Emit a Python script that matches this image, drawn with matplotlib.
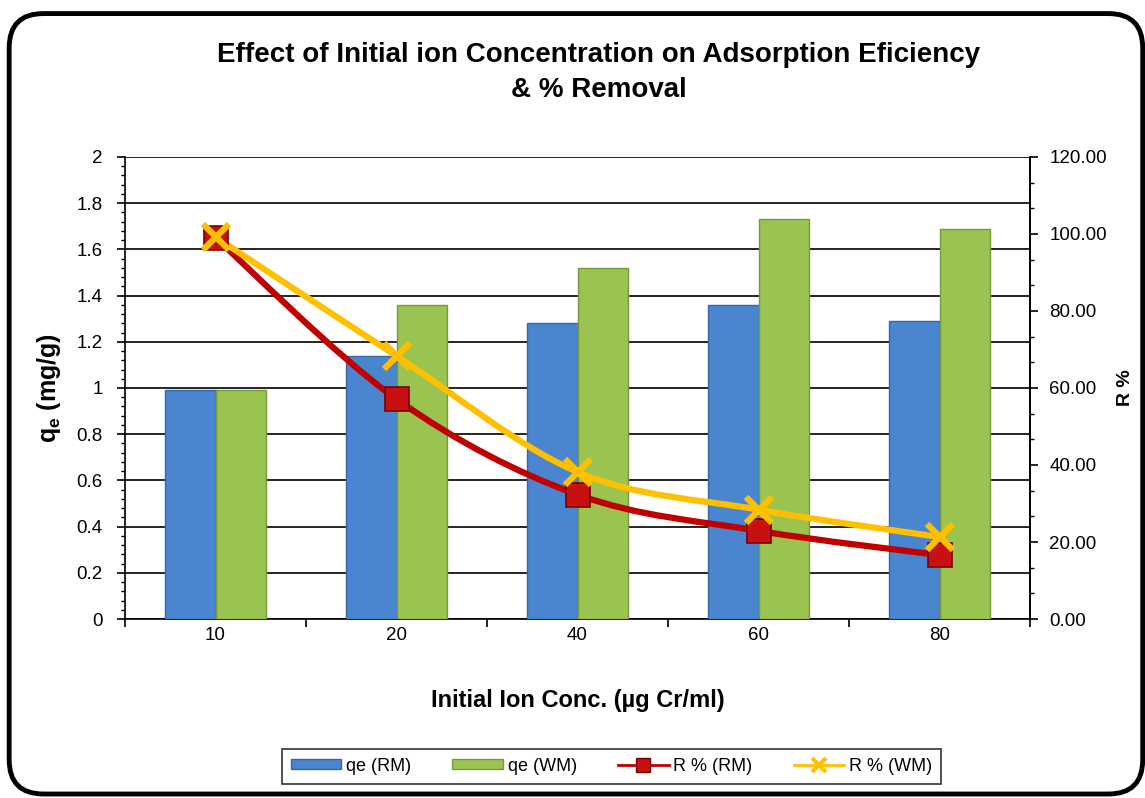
import numpy as np
import matplotlib
matplotlib.use("Agg")
import matplotlib.pyplot as plt
from matplotlib.path import Path
from matplotlib.patches import PathPatch, FancyBboxPatch
from matplotlib.lines import Line2D
from matplotlib.ticker import MultipleLocator

plt.rcParams['font.family'] = ['Liberation Sans', 'DejaVu Sans']

categories = ['10', '20', '40', '60', '80']
qe_rm = [0.99, 1.14, 1.28, 1.36, 1.29]
qe_wm = [0.99, 1.36, 1.52, 1.73, 1.69]
r_rm = [99.0, 57.1, 32.3, 22.9, 16.6]
r_wm = [99.2, 68.3, 38.2, 28.4, 21.3]


def smooth_path(xs, ys):
    # Excel style smoothed line: Catmull-Rom segments as cubic Bezier curves
    pts = list(zip(xs, ys))
    verts = [pts[0]]
    codes = [Path.MOVETO]
    for i in range(len(pts) - 1):
        p0 = pts[i - 1] if i > 0 else pts[i]
        p1 = pts[i]
        p2 = pts[i + 1]
        p3 = pts[i + 2] if i + 2 < len(pts) else pts[i + 1]
        c1 = (p1[0] + (p2[0] - p0[0]) / 6, p1[1] + (p2[1] - p0[1]) / 6)
        c2 = (p2[0] - (p3[0] - p1[0]) / 6, p2[1] - (p3[1] - p1[1]) / 6)
        verts += [c1, c2, p2]
        codes += [Path.CURVE4] * 3
    return Path(verts, codes)


fig = plt.figure(figsize=(11.45, 7.98), dpi=100)
ax = fig.add_axes([0.1092, 0.2243, 0.7904, 0.579])
ax2 = ax.twinx()
ax.set_zorder(1)
ax2.set_zorder(2)
ax2.patch.set_visible(False)

x = np.arange(len(categories))
w = 0.28
blue = '#4a86cf'
green = '#9bc34f'
ax.bar(x - w / 2, qe_rm, w, color=blue, edgecolor='#3567a8', linewidth=1.0, zorder=3)
ax.bar(x + w / 2, qe_wm, w, color=green, edgecolor='#769a3a', linewidth=1.0, zorder=3)

ax.set_xlim(-0.5, len(categories) - 0.5)
ax.set_ylim(0, 2)
ax.yaxis.set_minor_locator(MultipleLocator(0.04))
ax.set_yticks(np.arange(0, 2.01, 0.2))
ax.set_yticklabels(['0', '0.2', '0.4', '0.6', '0.8', '1', '1.2', '1.4', '1.6', '1.8', '2'])
ax.grid(axis='y', color='black', linewidth=1.2, zorder=0)
ax.set_axisbelow(True)
ax.set_xticks(x)
ax.set_xticklabels(categories)
ax.set_xticks(np.arange(-0.5, len(categories), 1), minor=True)
ax.tick_params(axis='x', which='major', length=0, pad=6, labelsize=13.5)
ax.tick_params(axis='x', which='minor', length=6, width=1.2, direction='out')
ax.tick_params(axis='y', which='major', length=6, width=1.2, labelsize=13.5, pad=10)
ax.tick_params(axis='y', which='minor', length=3, width=1)
for s in ['left', 'bottom', 'right', 'top']:
    ax.spines[s].set_linewidth(1.2)
ax.spines['top'].set_visible(False)

red = '#c00000'
yellow = '#ffc000'
ax2.set_ylim(0, 120)
ax2.set_yticks(np.arange(0, 121, 20))
ax2.set_yticklabels(['%.2f' % v for v in np.arange(0, 121, 20)])
ax2.yaxis.set_minor_locator(MultipleLocator(20 / 3))
ax2.tick_params(axis='y', which='major', length=6, width=1.2, labelsize=13.5, pad=8)
ax2.tick_params(axis='y', which='minor', length=3, width=1)
for s in ['left', 'bottom', 'right', 'top']:
    ax2.spines[s].set_visible(False)
ax2.spines['right'].set_visible(True)
ax2.spines['right'].set_linewidth(1.2)

ax2.add_patch(PathPatch(smooth_path(x, r_rm), fill=False, edgecolor=red, linewidth=4.5,
                        capstyle='round', zorder=4))
ax2.add_patch(PathPatch(smooth_path(x, r_wm), fill=False, edgecolor=yellow, linewidth=4.5,
                        capstyle='round', zorder=5))
ax2.plot(x, r_rm, linestyle='none', marker='s', markersize=17, markerfacecolor='#c81010',
         markeredgecolor='#7a0000', markeredgewidth=1.2, zorder=6)
ax2.plot(x, r_wm, linestyle='none', marker='x', markersize=19, markeredgecolor=yellow,
         markeredgewidth=4.5, zorder=7)

ax.set_ylabel('q$_\\mathregular{e}$ (mg/g)', fontsize=18, fontweight='bold', labelpad=10)
ax2.set_ylabel('R %', fontsize=14, fontweight='bold', labelpad=7)
ax.set_xlabel('Initial Ion Conc. (\u00b5g Cr/ml)', fontsize=17, fontweight='bold', labelpad=32)

fig.text(0.523, 0.909, 'Effect of Initial ion Concentration on Adsorption Eficiency\n& % Removal',
         ha='center', va='center', fontsize=20, fontweight='bold', linespacing=1.45)

handles = [
    plt.Rectangle((0, 0), 1, 1, facecolor=blue, edgecolor='#3567a8'),
    plt.Rectangle((0, 0), 1, 1, facecolor=green, edgecolor='#769a3a'),
    Line2D([], [], color=red, linewidth=2, marker='s', markersize=10,
           markerfacecolor='#c81010', markeredgecolor='#7a0000'),
    Line2D([], [], color=yellow, linewidth=2, marker='x', markersize=10,
           markeredgecolor=yellow, markeredgewidth=3),
]
labels = ['qe (RM)', 'qe (WM)', 'R % (RM)', 'R % (WM)']
leg = fig.legend(handles, labels, loc='center', bbox_to_anchor=(0.534, 0.040), ncol=4,
                 fontsize=13, frameon=True, fancybox=False, edgecolor='black',
                 handlelength=2.8, handleheight=0.5, handletextpad=0.25,
                 columnspacing=2.3, borderpad=0.5)
leg.get_frame().set_linewidth(1.2)

frame = FancyBboxPatch((0.008, 0.005), 0.99, 0.978, boxstyle='round,pad=0,rounding_size=0.03',
                       transform=fig.transFigure, fill=False, edgecolor='black', linewidth=3.5,
                       mutation_aspect=1145 / 798)
fig.patches.append(frame)

fig.savefig('out.png', dpi=100)
